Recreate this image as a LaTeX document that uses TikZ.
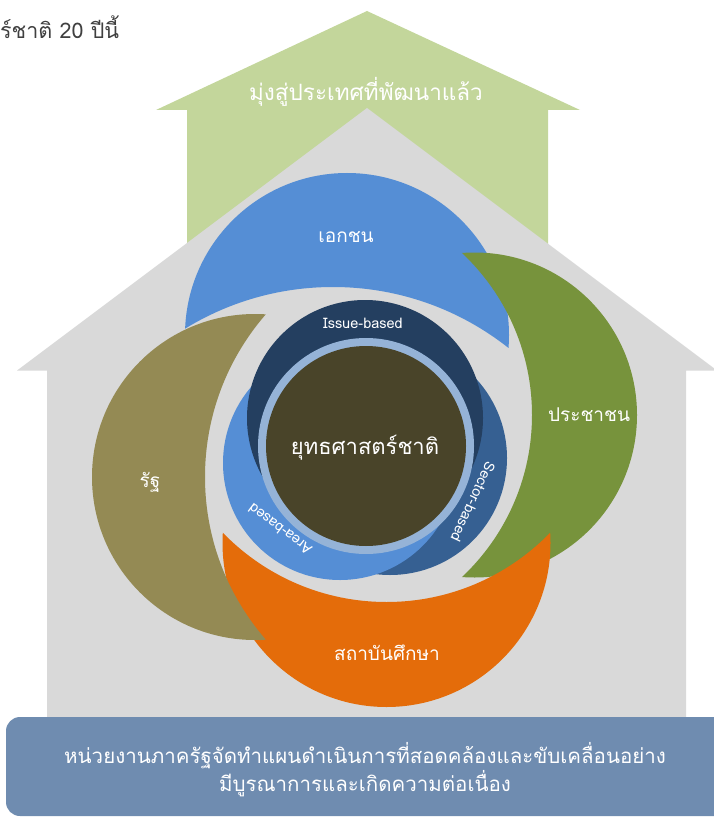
\documentclass[tikz,border=0pt]{standalone}
\usepackage{fontspec}
\setmainfont[Script=Thai]{Loma}

\definecolor{roofgreen}{HTML}{C3D69B}
\definecolor{housegray}{HTML}{D9D9D9}
\definecolor{petalblue}{HTML}{558ED5}
\definecolor{petalgreen}{HTML}{77933C}
\definecolor{petalorange}{HTML}{E46C0A}
\definecolor{petalolive}{HTML}{948A54}
\definecolor{issuenavy}{HTML}{243F60}
\definecolor{sectorblue}{HTML}{366092}
\definecolor{ringblue}{HTML}{95B3D7}
\definecolor{coredark}{HTML}{494429}
\definecolor{boxblue}{HTML}{6F8CB0}

\begin{document}
\begin{tikzpicture}[x=1pt,y=-1pt,
    whitetext/.style={text=white,inner sep=0pt},
    petaltext/.style={whitetext,font=\fontsize{19}{19}\selectfont},
    ringtext/.style={whitetext,font=\fontsize{14.5}{14.5}\selectfont}]
    \useasboundingbox (0,0) rectangle (713,818);

    \node[anchor=west,inner sep=0pt,text=black!75,font=\fontsize{21.5}{21.5}\selectfont] (title) at (0,27) {ร์ชาติ 20 ปีนี้};

    \fill[roofgreen] (367,11) -- (580,110) -- (548,110) -- (548,270) -- (187,270) -- (187,110) -- (156,110) -- cycle;
    \fill[housegray] (367,108) -- (717,370.5) -- (686,370.5) -- (686,730) -- (47,730) -- (47,370.5) -- (17,370.5) -- cycle;
    \node[whitetext,font=\fontsize{22.5}{22.5}\selectfont] (goal) at (366,92) {มุ่งสู่ประเทศที่พัฒนาแล้ว};

    \foreach \col/\ox/\oy/\orad/\ix/\iy/\irad in {petalblue/347/335/162/333/570/283, petalgreen/474.5/415/162.5/309.5/415/222.5, petalorange/386.5/543/164/386.5/374/228, petalolive/255/477/163/453/477/248} {
        \begin{scope}
            \clip (\ox,\oy) circle (\orad);
            \fill[\col,even odd rule] (-100,-100) rectangle (900,1000) (\ix,\iy) circle (\irad);
        \end{scope}
    }

    \fill[sectorblue] (390,458) circle (117);
    \fill[petalblue] (340,463) circle (117);
    \fill[issuenavy] (365,418) circle (118);
    \fill[ringblue] (366,446) circle (108);
    \fill[coredark] (366,446) circle (100);

    \node[petaltext] (private) at (346,237) {เอกชน};
    \node[petaltext] (people) at (589,415) {ประชาชน};
    \node[petaltext] (academy) at (387,653) {สถาบันศึกษา};
    \node[petaltext] (state) at (150,482) {รัฐ};

    \node[ringtext] (issue) at (363,323) {Issue-based};
    \node[ringtext,rotate=-115] (sector) at (473,502) {Sector-based};
    \node[ringtext,rotate=143] (area) at (280,529) {Area-based};
    \node[whitetext,font=\fontsize{22}{22}\selectfont] (core) at (365,448) {ยุทธศาสตร์ชาติ};

    \fill[boxblue,rounded corners=14] (6,717) rectangle (740,816);
    \node[whitetext,font=\fontsize{20.5}{28}\selectfont,align=center] (agency) at (365,770) {หน่วยงานภาครัฐจัดทำแผนดำเนินการที่สอดคล้องและขับเคลื่อนอย่าง\\มีบูรณาการและเกิดความต่อเนื่อง};
\end{tikzpicture}
\end{document}
